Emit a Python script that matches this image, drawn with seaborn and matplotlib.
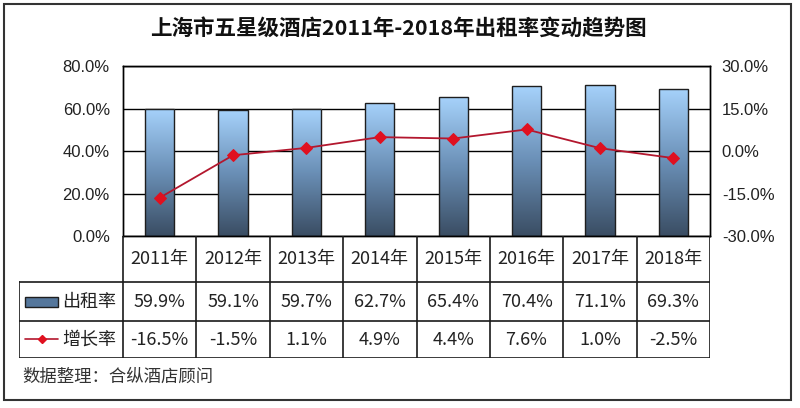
import matplotlib
matplotlib.use("Agg")
import matplotlib.pyplot as plt
import numpy as np
import seaborn as sns
from matplotlib.colors import LinearSegmentedColormap
from matplotlib.patches import Rectangle
from matplotlib.ticker import MultipleLocator, PercentFormatter

# Chart data: Shanghai five-star hotel occupancy and its yearly change
years = ["2011年", "2012年", "2013年", "2014年", "2015年", "2016年", "2017年", "2018年"]
occupancy = [59.9, 59.1, 59.7, 62.7, 65.4, 70.4, 71.1, 69.3]
growth = [-16.5, -1.5, 1.1, 4.9, 4.4, 7.6, 1.0, -2.5]
series_names = ["出租率", "增长率"]
title = "上海市五星级酒店2011年-2018年出租率变动趋势图"
source = "数据整理：合纵酒店顾问"

W, H = 800, 408
CJK = ["Noto Sans CJK SC", "DejaVu Sans"]
LINE_COLOR = "#b3172e"
MARK_COLOR = "#e0101f"


def fx(px):
    # Pixel x -> figure fraction.
    return px / W


def fy(py):
    # Pixel y (from top) -> figure fraction.
    return 1 - py / H


sns.set_theme(style="white")
plt.rcParams["font.family"] = CJK
plt.rcParams["axes.unicode_minus"] = False

fig = plt.figure(figsize=(W / 100, H / 100), dpi=100)
fig.patch.set_facecolor("white")

# ------------------------------------------------------------------
# Main plot area with bars (left axis) and growth line (right axis)
# ------------------------------------------------------------------
ax = fig.add_axes([fx(123), fy(236), (710 - 123) / W, (236 - 66) / H])
sns.barplot(x=years, y=occupancy, ax=ax, width=0.4, color="#6b91b9",
            edgecolor="#1e1e1e", linewidth=1, zorder=3)

# Vertical gradient fill for each bar, clipped to the bar shape.
cmap = LinearSegmentedColormap.from_list("bar", ["#3a4d63", "#6a8fb6", "#a6d2fb"])
grad = np.linspace(0, 1, 256).reshape(-1, 1)
for patch in ax.patches:
    x0, y0 = patch.get_x(), patch.get_y()
    w, h = patch.get_width(), patch.get_height()
    im = ax.imshow(grad, extent=(x0, x0 + w, y0, y0 + h), origin="lower",
                   aspect="auto", cmap=cmap, zorder=2)
    im.set_clip_path(patch)
    patch.set_facecolor("none")

ax.set_xlim(-0.5, 7.5)
ax.set_ylim(0, 80)
ax.yaxis.set_major_locator(MultipleLocator(20))
ax.yaxis.set_major_formatter(PercentFormatter(xmax=100, decimals=1))
ax.yaxis.grid(True, color="black", linewidth=1)
ax.set_axisbelow(True)
ax.set_xticks([])
ax.set_xlabel("")
ax.set_ylabel("")
ax.tick_params(axis="y", length=0, pad=9.5, labelsize=12, labelcolor="#222222")
for lbl in ax.get_yticklabels():
    lbl.set_family("Liberation Sans")
for spine in ax.spines.values():
    spine.set_color("black")
    spine.set_linewidth(1)

ax2 = ax.twinx()
sns.lineplot(x=np.arange(len(growth)), y=growth, ax=ax2, color=LINE_COLOR,
             linewidth=1.3, marker="D", markersize=6, markerfacecolor=MARK_COLOR,
             markeredgecolor=MARK_COLOR, zorder=5)
ax2.set_xlim(-0.5, 7.5)
ax2.set_ylim(-30, 30)
ax2.yaxis.set_major_locator(MultipleLocator(15))
ax2.yaxis.set_major_formatter(PercentFormatter(xmax=100, decimals=1))
ax2.set_ylabel("")
ax2.grid(False)
ax2.tick_params(axis="y", length=0, pad=8.5, labelsize=12, labelcolor="#222222")
for lbl in ax2.get_yticklabels():
    lbl.set_family("Liberation Sans")
for spine in ax2.spines.values():
    spine.set_color("black")
    spine.set_linewidth(1)

# ------------------------------------------------------------------
# Data table under the plot, sharing the category scale
# ------------------------------------------------------------------
cw = (710 - 123) / 8
left_units = 104 / cw
tax = fig.add_axes([fx(19), fy(358), (710 - 19) / W, (358 - 236) / H])
tax.set_xlim(-0.5 - left_units, 7.5)
tax.set_ylim(358, 236)
tax.axis("off")


def dx(px):
    # Pixel x -> table data x.
    return -0.5 + (px - 123) / cw


xmin = -0.5 - left_units
line_kw = dict(color="#1a1a1a", linewidth=1.2, solid_capstyle="projecting")
for k in range(len(years) + 1):
    tax.plot([k - 0.5, k - 0.5], [236, 358], **line_kw)
tax.plot([xmin, xmin], [282, 358], **line_kw)
for yy in (282, 321, 358):
    tax.plot([xmin, 7.5], [yy, yy], **line_kw)

cell_kw = dict(ha="center", va="center", fontsize=13, color="#222222", family=CJK)
for i, year in enumerate(years):
    tax.text(i, 259, year, **cell_kw)
    tax.text(i, 302, f"{occupancy[i]:.1f}%", **cell_kw)
    tax.text(i, 340, f"{growth[i]:.1f}%", **cell_kw)

# Legend keys inside the first column
tax.add_patch(Rectangle((dx(25), 297.5), dx(58) - dx(25), 9.5, facecolor="#55779c",
                        edgecolor="#1e1e1e", linewidth=1, clip_on=False))
tax.plot([dx(25), dx(58)], [339, 339], color=LINE_COLOR, linewidth=1.2, clip_on=False)
tax.plot([dx(41.5)], [339], marker="D", markersize=4.5, color=MARK_COLOR, clip_on=False)
tax.text(dx(62), 302, series_names[0], ha="left", va="center", fontsize=13,
         color="#222222", family=CJK)
tax.text(dx(62), 340, series_names[1], ha="left", va="center", fontsize=13,
         color="#222222", family=CJK)

# ------------------------------------------------------------------
# Title, source note and outer frame
# ------------------------------------------------------------------
fig.text(fx(398), fy(28), title, ha="center", va="center", fontsize=15.5,
         fontweight="bold", color="#111111", family=CJK)
fig.text(fx(22), fy(377), source, ha="left", va="center", fontsize=12.5,
         color="#333333", family=CJK)
fig.add_artist(Rectangle((fx(4), fy(400)), fx(791) - fx(4), fy(4) - fy(400),
                         transform=fig.transFigure, fill=False,
                         edgecolor="#333333", linewidth=1.5))

fig.savefig("out.png", dpi=100)
